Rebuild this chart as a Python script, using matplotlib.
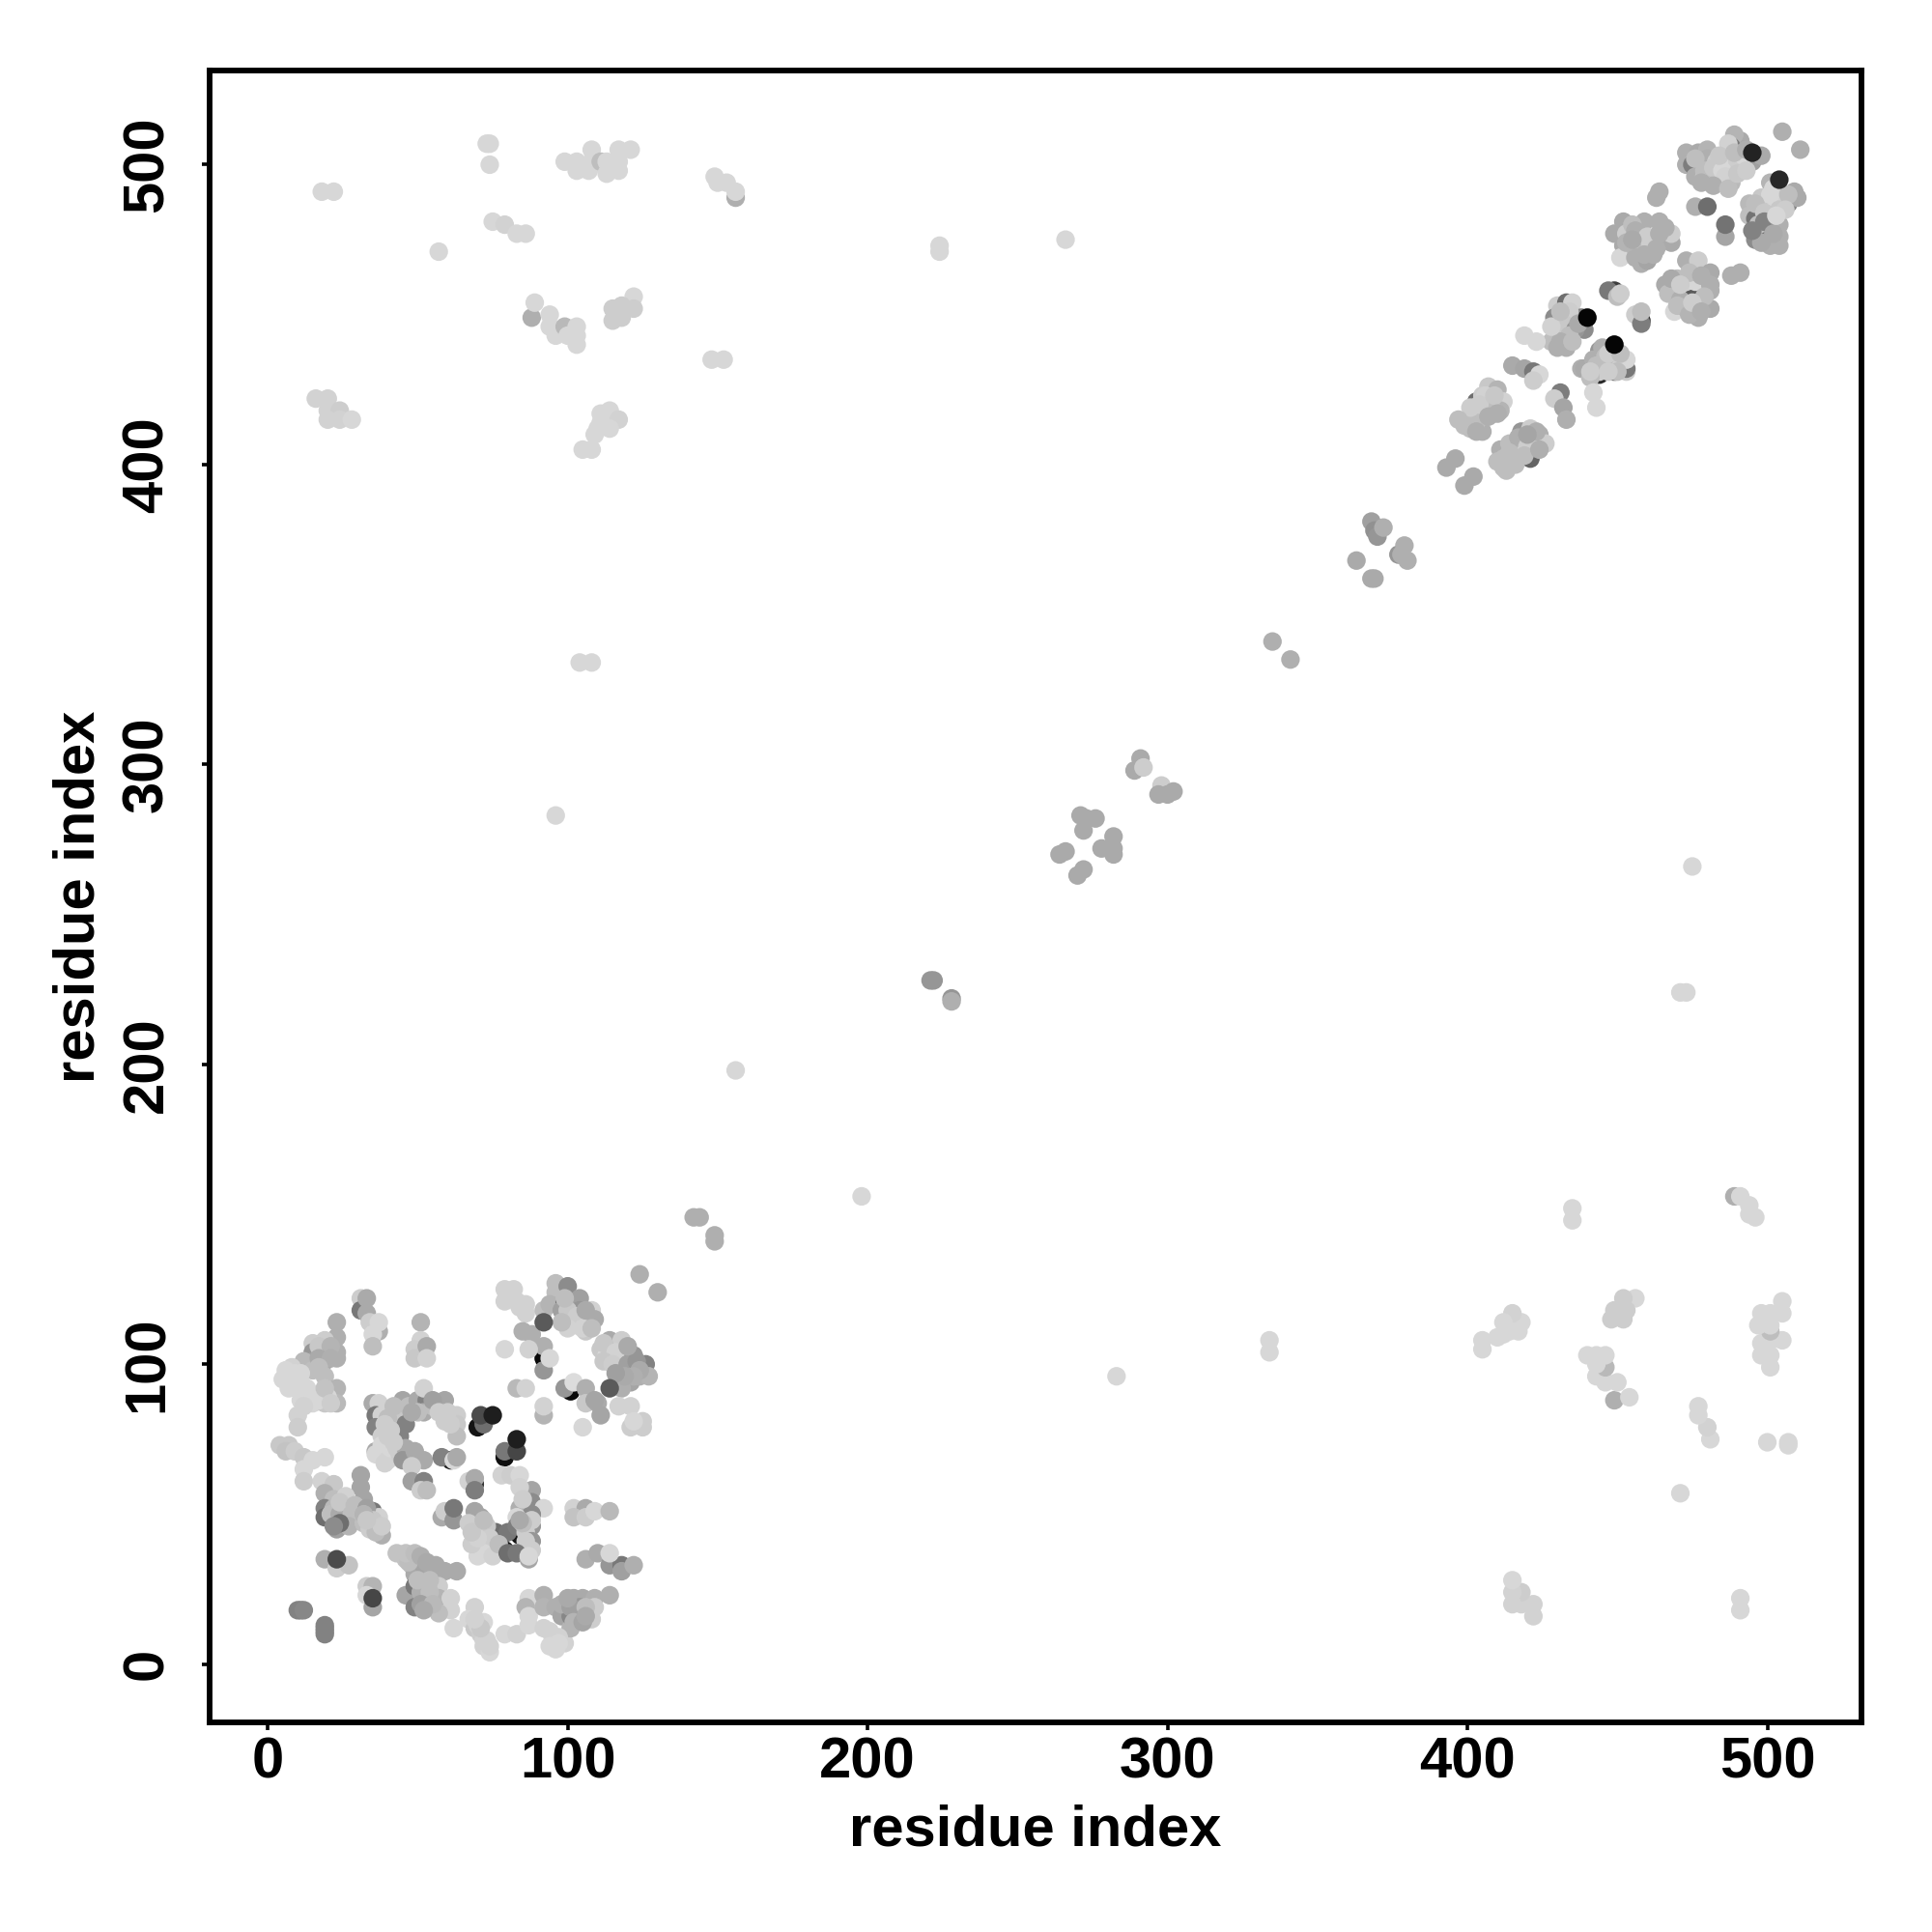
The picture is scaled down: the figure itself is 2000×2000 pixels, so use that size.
import numpy as np
import matplotlib
matplotlib.use("Agg")
import matplotlib.pyplot as plt

plt.rcParams['font.family'] = ['Liberation Sans', 'DejaVu Sans']

# every contact is (residue x, residue y, grey level 0-255)
# N-terminal domain block, both sides of the diagonal
low_right = [
    (124,130,175),(130,124,175),
    (79,125,210),(82,125,210),(79,121,210),(83,121,210),(86,120,210),(86,117,210),(84,119,210),
    (92,118,190),(92,114,90),(96,127,190),(96,124,190),(100,126,140),(94,120,180),(99,121,110),
    (98,118,160),(104,122,160),(104,118,150),(102,117,70),(101,114,210),(108,118,210),
    (106,115,40),(109,115,170),(106,111,200),(103,113,220),
    (100,118,200),(103,116,205),(105,112,210),(108,112,190),(100,112,210),(106,118,170),(98,114,190),(99,122,190),
    (85,111,175),(88,110,175),(92,98,150),(92,106,175),(87,105,210),(79,105,215),
    (92,102,10),(94,102,215),
    (114,108,170),(118,108,205),(114,105,50),(111,105,200),(113,103,215),(117,103,60),
    (118,104,160),(122,103,150),(118,100,170),(121,99,60),(126,100,130),(121,94,165),
    (118,92,175),(124,96,175),(127,96,180),
    (112,107,200),(116,104,210),(112,101,200),(115,100,205),(120,100,160),(123,101,150),
    (124,98,170),(122,96,175),(119,96,170),(116,97,160),(120,106,170),
    (99,92,150),(101,91,10),(102,94,220),(106,92,175),(114,92,90),
    (106,87,200),(110,87,170),(109,88,165),(111,83,165),
    (117,86,210),(121,86,210),(121,79,205),(125,79,205),(125,81,205),(122,81,215),
    (105,79,215),(83,92,185),(86,92,210),(92,83,180),(92,86,210),
]
low_middle = [
    (71,83,75),(75,83,30),(70,79,20),(72,80,110),
    (79,69,15),(79,71,120),(83,71,70),(83,75,30),
    (35,87,170),(37,87,210),(36,83,120),(38,83,210),(36,79,130),(37,80,20),
    (43,83,25),(44,83,200),(43,79,40),(46,80,130),(44,76,130),(45,88,165),
    (47,86,190),(50,88,170),(53,88,130),(59,88,165),(52,92,210),(52,84,170),
    (59,81,205),(63,83,205),(63,80,200),(63,76,190),
    (50,84,190),(48,84,170),(55,86,190),(55,88,160),(57,84,205),(60,84,205),(61,80,205),
    (40,82,190),(41,78,205),(39,80,205),(42,86,190),
    (38,76,205),(36,71,170),(36,70,215),(38,73,215),(40,71,215),(39,67,210),(42,70,190),
    (40,68,210),(41,72,215),(43,72,205),(44,70,205),(47,70,190),(46,72,170),(40,76,205),(42,74,205),
    (45,68,150),(49,71,170),(52,68,170),(48,66,205),
    (58,69,130),(61,68,30),(62,68,215),(63,69,170),
    (48,61,160),(52,61,130),(51,58,205),(53,58,190),
]
low_left = [
    (4,73,200),(7,73,200),(6,71,195),(9,71,205),(12,69,200),(12,65,215),(15,68,215),
    (19,69,215),(12,61,205),
    (23,114,175),(23,109,175),(23,104,175),(23,102,175),(15,107,205),(19,108,205),
    (15,104,150),(19,104,160),(15,101,160),(19,101,165),(12,101,185),(15,98,190),(19,96,190),
    (17,106,200),(21,106,180),(17,102,170),(21,102,175),(17,99,190),
    (8,99,210),(5,95,215),(8,95,215),(11,94,215),(7,92,215),(12,90,215),(15,87,215),
    (11,88,215),(23,92,180),(19,87,200),(23,87,185),(20,89,215),(10,83,210),(10,79,205),
    (6,98,215),(9,97,215),(10,92,215),(13,92,215),(14,89,215),(17,88,215),(16,90,215),
    (19,92,195),(21,87,205),(12,86,210),(11,97,215),
    (31,122,205),(31,118,120),(33,117,170),(33,122,170),(34,114,205),(37,111,175),
    (35,110,215),(37,114,215),(35,106,190),
    (51,114,180),(51,108,210),(49,105,205),(49,102,200),(53,106,170),(53,102,210),
]
low_lower = [
    (31,63,165),(31,59,165),(32,55,165),(18,61,210),(22,60,200),(19,57,175),(22,55,190),
    (26,56,210),(19,52,130),(19,49,110),(22,52,185),(23,48,40),(26,48,85),(26,52,200),(23,45,160),
    (21,50,190),(24,50,170),(24,54,200),(28,50,190),(27,46,180),(24,47,110),(22,46,140),(29,53,190),
    (35,51,120),(37,49,210),(32,47,190),(34,45,205),(38,43,175),
    (33,52,160),(35,48,200),(36,46,200),(32,50,180),(36,44,190),(38,46,205),(33,48,200),
    (58,49,170),(59,51,205),(62,48,150),(62,52,120),
    (67,61,210),(69,62,170),(69,60,50),(69,58,125),
    (69,51,165),(71,49,165),(67,47,205),(69,44,200),(72,40,215),(70,36,215),(75,39,205),
    (76,44,110),(78,43,20),(80,44,120),
    (71,44,205),(73,46,200),(74,42,205),(72,37,215),(75,36,210),(77,40,190),(68,40,205),
    (70,42,210),(68,44,200),(72,48,190),
    (78,63,210),(81,63,205),(84,63,215),(88,58,165),(84,59,210),(88,54,140),(84,52,175),
    (92,52,215),(88,50,140),(83,49,215),(88,46,150),(83,46,125),(84,43,20),
    (86,44,205),(88,41,150),(88,48,205),(85,47,190),(86,41,205),(85,55,205),(84,48,170),(88,38,205),
    (79,38,20),(80,37,110),(83,37,120),(87,35,165),(87,36,215),
    (102,52,210),(106,52,170),(102,49,195),(106,49,205),(109,51,215),(114,51,185),
    (106,35,175),(110,37,170),(114,33,150),(118,33,120),(114,37,215),(118,31,160),(122,33,175),
    (19,35,175),(23,35,75),(23,32,205),(27,33,195),
    (33,26,205),(35,22,70),(35,26,180),(33,23,215),(35,19,165),
    (43,37,195),(46,35,195),(50,35,130),(48,33,190),(49,30,170),(52,33,165),(55,31,170),
    (58,31,120),(59,31,170),(63,31,170),
    (47,34,190),(46,37,195),(49,37,190),(51,36,175),(53,34,170),(56,33,170),
    (46,23,165),(49,26,120),(49,22,80),(49,19,130),(53,26,180),(57,26,205),(53,19,150),
    (52,22,185),(57,22,180),(61,22,210),(61,18,210),(57,17,190),
    (51,24,175),(54,24,190),(51,20,160),(55,20,185),(50,28,190),(54,28,190),(52,18,170),
    (10,18,130),(11,18,130),(12,18,135),(19,13,130),(19,12,130),(19,11,130),(19,10,130),
    (69,19,210),(62,12,215),(67,15,215),(69,12,200),(71,10,205),(73,8,210),(72,6,210),(74,4,215),
    (72,14,215),(70,13,210),(72,8,210),(74,6,210),(71,12,200),(69,15,210),
    (79,10,215),(83,10,210),(87,22,215),(86,19,180),(87,16,215),(87,13,215),
    (92,23,175),(92,19,180),(96,19,175),(98,16,165),(92,12,210),(95,8,215),(99,7,210),(96,5,215),
    (101,12,180),(102,22,170),(105,22,170),(109,22,175),(114,23,175),(101,16,135),(104,16,130),
    (104,19,150),(109,19,205),(108,15,205),
    (98,20,175),(101,19,160),(102,14,180),(105,14,165),(100,22,170),(106,19,190),(106,16,170),
    (94,11,210),(97,9,210),(97,7,215),(94,6,215),
]

# C-terminal block along the diagonal, both sides
high_upper = [
    (505,511,175),(511,505,175),
    (491,508,170),(489,510,180),(488,506,120),(487,507,210),(495,501,160),(495,504,35),
    (473,504,175),(473,500,175),(477,504,170),(480,505,180),(475,500,125),(478,500,100),
    (476,496,175),(480,502,175),(479,496,200),(483,501,205),(487,501,215),(490,501,205),
    (482,496,215),(488,494,185),
    (476,502,190),(479,498,190),(482,499,200),(485,498,215),(484,503,200),(486,496,210),
    (478,494,175),(482,493,175),(487,492,190),(490,497,200),(492,503,215),(489,504,190),
    (493,498,205),(493,505,175),(498,503,170),
    (501,494,180),(507,487,130),(502,492,215),(504,489,210),(509,491,170),(510,489,170),(504,495,40),
    (494,487,185),(497,485,205),(501,486,215),(494,483,190),(496,482,115),(496,478,175),
    (500,479,60),(500,477,110),(496,475,140),(501,482,180),(504,480,175),(504,476,175),
    (501,473,175),(504,473,175),
    (498,489,200),(501,490,215),(504,485,200),(507,490,190),(496,487,190),(499,484,200),
    (497,480,190),(499,481,130),(502,477,170),(498,474,170),(495,478,130),(506,485,205),(503,483,215),
    (464,491,175),(463,489,175),(476,486,175),(480,486,110),(486,476,165),(486,480,115),
    (449,477,170),(452,481,170),(453,477,205),(459,481,175),(464,481,175),(457,476,110),
    (452,473,170),(451,469,215),(456,472,190),(458,472,50),(456,469,175),(458,467,175),(460,468,165),
    (461,474,205),(468,474,170),(468,477,205),
    (455,480,190),(456,478,175),(460,476,205),(464,477,175),(463,472,175),(466,479,175),
    (459,470,175),(462,470,175),(453,474,180),(455,475,170),
]
high_lower = [
    (473,468,175),(477,468,205),(481,464,170),(466,460,170),(472,458,20),(469,458,205),
    (473,461,210),(476,458,90),(476,461,215),(481,460,175),(481,458,175),(469,451,215),
    (473,452,175),(477,449,175),(477,454,215),(481,452,170),
    (470,462,190),(467,457,190),(474,464,190),(471,455,175),(470,453,190),(478,463,175),
    (479,456,190),(474,450,180),(475,454,205),(478,451,175),(468,462,170),(471,460,205),
    (488,463,175),(491,464,175),
    (447,458,120),(449,458,60),(450,456,190),(451,457,205),
    (456,450,205),(458,447,125),(458,448,50),(458,451,190),
    (430,453,205),(433,454,110),(435,454,210),(429,449,140),(435,449,90),(438,449,130),
    (439,445,140),(440,449,5),(431,445,205),(430,444,30),(428,441,190),(430,439,175),(433,439,175),
    (434,451,205),(432,447,200),(436,445,150),(434,443,190),(431,441,175),(437,447,170),
    (435,441,190),(428,446,210),(431,451,190),
    (419,443,215),(423,441,215),
    (449,440,5),(444,438,150),(445,439,175),(438,432,175),(439,432,170),(449,431,120),(444,430,40),
    (444,431,205),(441,429,190),(453,431,205),(453,432,120),(450,434,210),(453,435,215),
    (442,435,175),(446,434,205),(446,436,190),(443,433,190),(441,431,205),(450,431,190),
    (447,437,205),(451,437,190),(447,431,205),
    (442,424,215),(443,419,215),
    (415,433,170),(419,432,165),(422,431,120),(424,430,215),(422,428,205),
    (431,424,125),(429,422,205),(432,419,165),(433,415,175),
    (407,426,200),(410,425,180),(403,421,110),(405,423,205),(412,421,210),(411,418,180),
    (407,420,205),(401,416,40),(405,417,205),(399,413,190),(401,412,190),(405,411,175),
    (406,423,210),(408,419,190),(403,414,190),(400,414,190),(404,420,205),(409,423,200),
    (410,417,175),(407,416,175),(401,419,205),(403,411,175),(397,415,190),
    (418,411,150),(421,412,205),(424,410,175),(418,405,190),(426,407,205),(422,408,205),
    (411,405,175),(415,402,60),(421,402,100),(418,404,205),(410,401,190),(413,398,190),
    (412,402,190),(414,407,190),(417,409,175),(420,406,205),(423,411,175),(416,400,190),
    (412,399,190),(419,403,190),(424,405,175),(414,404,190),(420,410,165),
    (393,399,170),(396,402,170),(399,393,170),(402,396,170),
]

# groups along the middle of the diagonal
diag_groups = [
    (368,381,160),(369,378,145),(370,376,150),(372,379,175),
    (377,370,150),(379,373,175),(380,368,175),(378,370,175),
    (363,368,170),(368,362,170),(369,362,170),
    (291,302,170),(289,298,170),(292,299,205),(298,293,205),(297,290,170),(302,291,170),(300,290,170),
    (271,283,170),(273,282,170),(276,282,170),(272,278,170),
    (264,270,170),(266,271,170),(272,265,170),(270,263,170),
    (278,272,170),(282,276,170),(282,272,170),(282,270,170),
    (335,341,175),(341,335,175),
    (221,228,150),(222,228,150),(228,222,150),(228,221,175),
    (142,149,175),(144,149,175),(149,143,175),(149,141,175),
]

# long range contacts, drawn at (i, j) and again at (j, i)
far_pairs = [
    (156,198,215),(266,475,215),(96,283,215),
    (18,491,215),(22,491,215),(73,507,215),(74,507,215),(74,500,215),
    (99,501,215),(103,501,215),(103,498,215),(107,498,215),(108,505,215),(108,501,215),
    (111,501,190),(113,501,215),(113,497,215),(117,505,215),(121,505,215),(117,501,215),(117,498,215),
    (156,489,175),(149,496,215),(150,494,215),(153,494,215),(156,491,215),
    (75,481,215),(79,480,210),(83,477,215),(86,477,215),(57,471,215),
    (88,449,175),(89,454,215),(94,450,215),(94,446,215),(96,443,215),(99,446,185),
    (100,443,215),(103,446,215),(103,443,215),(103,440,215),
    (122,456,215),(122,452,205),(118,453,205),(115,452,205),(115,448,205),(118,449,205),
    (148,435,215),(152,435,215),
    (16,422,210),(20,422,210),(20,418,210),(24,418,205),(20,415,210),(24,415,210),(28,415,215),
    (114,418,215),(111,417,215),(117,415,210),(114,412,215),(111,414,215),(110,412,215),
    (109,410,215),(105,405,215),(108,405,215),
    (104,334,215),(108,334,215),(224,471,215),(224,473,215),
]

# dark contacts that stay fully visible in the picture
on_top = [(440,449),(449,440),(495,504),(504,495),(75,83),(83,75),(92,114),(114,92),
          (23,35),(35,22),(71,83),(83,71),(480,486)]

ticks = [0, 100, 200, 300, 400, 500]
axis_label = "residue index"

fig = plt.figure(figsize=(10, 10), dpi=200)
ax = fig.add_axes([217/2000, 1 - 1783/2000, 1710/2000, 1710/2000])

direct = low_right + low_middle + low_left + low_lower + high_upper + high_lower + diag_groups
mirrored = far_pairs + [(j, i, g) for i, j, g in far_pairs]
all_points = mirrored + direct

# dark ones go underneath, so most only show as crescents
def layer(p):
    if (p[0], p[1]) in on_top:
        return 2
    return 0 if p[2] < 100 else 1

points = np.array(sorted(all_points, key=layer), dtype=float)

ax.scatter(points[:, 0], points[:, 1], s=48, c=points[:, 2], cmap='gray', vmin=0, vmax=255,
           linewidths=0, zorder=3)

ax.set_xlim(-19.4, 531.4)
ax.set_ylim(-19.4, 531.4)
ax.set_xticks(ticks)
ax.set_yticks(ticks)
ax.tick_params(length=3, width=1.3, labelsize=21.5)
ax.tick_params(axis='x', pad=2.2)
ax.tick_params(axis='y', pad=10.2)
for lab in ax.get_xticklabels():
    lab.set_fontweight('bold')
for lab in ax.get_yticklabels():
    lab.set_fontweight('bold')
    lab.set_rotation(90)
    lab.set_va('center')
for s in ax.spines.values():
    s.set_linewidth(2.1)

ax.set_xlabel(axis_label, fontsize=21.5, fontweight='bold', va='center')
ax.set_ylabel(axis_label, fontsize=21.5, fontweight='bold', va='center')
ax.xaxis.set_label_coords(0.5, -112/1710)
ax.yaxis.set_label_coords(-135/1710, 0.5)

fig.savefig('out.png', dpi=200)
